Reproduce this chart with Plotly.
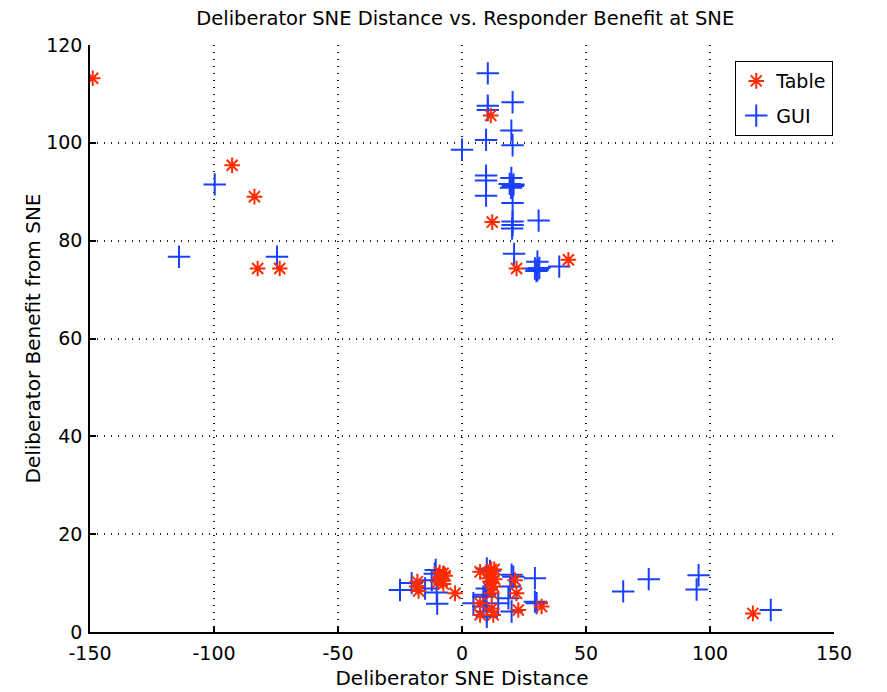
import plotly.graph_objects as go

# Table (red asterisks)
table_x = [-148.9, -92.7, -83.7, -82.4, -73.5,
           11.6, 12.2, 22.0, 42.9,
           117.3,
           -18.3, -18.0, -17.5,
           -9.7, -8.9, -7.6, -8.0, -6.8, -9.0, -7.5,
           -2.8,
           7.3, 11.3, 12.0, 11.3, 12.6, 13.0, 11.8, 12.0, 10.8, 13.2,
           7.3, 12.0, 7.3, 12.6,
           21.4, 22.0, 22.7, 32.1]
table_y = [113.2, 95.4, 89.0, 74.3, 74.3,
           105.6, 83.8, 74.3, 76.1,
           3.8,
           9.3, 10.3, 8.4,
           10.2, 11.0, 12.0, 10.5, 11.5, 12.2, 9.8,
           7.9,
           12.3, 12.3, 11.3, 10.3, 9.3, 12.8, 12.8, 7.9, 11.0, 10.8,
           5.9, 4.8, 3.5, 3.5,
           10.6, 7.9, 4.5, 5.2]

# GUI (blue crosses)
gui_x = [-114.1, -99.7, -74.6,
         10.4, 20.4, 10.4, 10.4, 19.9, 20.4, 9.7, 0.0,
         9.7, 9.7, 19.9, 19.2, 20.5, 19.8, 20.8, 9.7, 20.4,
         30.9, 20.4, 20.4, 20.2, 21.0,
         30.4, 29.4, 30.5, 31.2, 30.0, 39.2,
         65.0, 75.3, 95.4, 94.6, 124.5,
         -25.0, -20.3, -14.9, -12.2, -10.6, -11.0, -10.2, -10.0,
         10.0, 11.3, 10.0, 8.6, 4.6, 14.6, 10.0, 10.0, 9.3, 8.6,
         20.0, 19.4, 18.7, 20.0, 20.7,
         29.4, 30.1, 29.4]
gui_y = [76.7, 91.5, 76.7,
         114.2, 108.3, 107.6, 106.7, 102.5, 99.5, 100.6, 98.6,
         93.3, 92.3, 92.8, 91.6, 91.2, 90.8, 91.5, 89.2, 87.7,
         84.1, 83.9, 83.2, 82.5, 77.3,
         75.7, 74.3, 74.0, 74.4, 73.8, 74.7,
         8.3, 10.8, 11.6, 8.7, 4.5,
         8.6, 10.0, 8.9, 10.6, 12.7, 11.9, 8.1, 5.8,
         13.0, 12.5, 8.9, 7.2, 5.9, 5.9, 4.2, 3.1, 7.6, 5.2,
         11.7, 9.3, 6.9, 4.2, 11.3,
         11.0, 5.9, 6.2]

x_ticks = [-150, -100, -50, 0, 50, 100, 150]
x_tick_labels = ["-150", "-100", "-50", "0", "50", "100", "150"]
y_ticks = [0, 20, 40, 60, 80, 100, 120]
y_tick_labels = ["0", "20", "40", "60", "80", "100", "120"]

FONT = "DejaVu Sans"

fig = go.Figure()
fig.add_trace(go.Scatter(
    x=gui_x, y=gui_y, mode="markers", name="GUI", legendrank=2,
    legendgroup="gui",
    marker=dict(symbol="cross-thin-open", size=16, opacity=1,
                color="#1a40ff",
                line=dict(color="#1a40ff", width=2))))
fig.add_trace(go.Scatter(
    x=table_x, y=table_y, mode="markers", name="Table", legendrank=1,
    legendgroup="table",
    marker=dict(symbol="asterisk-open", size=13, opacity=1,
                color="#ff2a00",
                line=dict(color="#ff2a00", width=2))))

axis_common = dict(
    showgrid=True, gridcolor="#222222", griddash="1px,6px", gridwidth=1.5,
    zeroline=False, showline=True, linecolor="black", linewidth=1.5,
    ticks="inside", ticklen=6, tickwidth=1.5, tickcolor="black",
    tickfont=dict(family=FONT, size=19, color="black"),
    mirror=False,
)

fig.update_layout(
    width=887, height=692,
    margin=dict(l=82, r=61, t=37, b=68),
    paper_bgcolor="white", plot_bgcolor="white",
    font=dict(family=FONT, size=19, color="black"),
    title=dict(text="Deliberator SNE Distance vs. Responder Benefit at SNE",
               x=0.5155, xanchor="center", y=0.986, yanchor="middle",
               font=dict(family=FONT, size=19.5, color="black")),
    xaxis=dict(range=[-150, 150], tickvals=x_ticks, ticktext=x_tick_labels,
               ticklabelstandoff=3,
               title=dict(text="Deliberator SNE Distance", standoff=8,
                          font=dict(family=FONT, size=20)),
               **axis_common),
    yaxis=dict(range=[0, 120], tickvals=y_ticks, ticktext=y_tick_labels,
               ticklabelstandoff=2,
               title=dict(text="Deliberator Benefit from SNE", standoff=0,
                          font=dict(family=FONT, size=20)),
               **axis_common),
    legend=dict(x=0.999, xanchor="right", y=0.9727, yanchor="top",
                bgcolor="white", bordercolor="black", borderwidth=1,
                font=dict(family=FONT, size=19, color="black"),
                tracegroupgap=7),
    showlegend=True,
)

fig.write_html("out.html")
